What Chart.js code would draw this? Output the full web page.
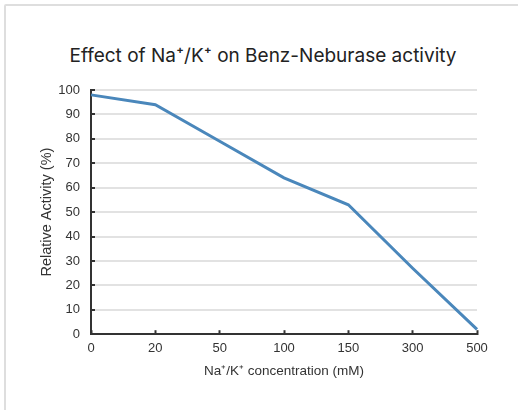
<!DOCTYPE html>
<html>
<head>
<meta charset="utf-8">
<script src="https://cdn.jsdelivr.net/npm/chart.js@4"></script>
<style>
    html, body { margin: 0; padding: 0; background: #fff; }
    body { width: 518px; height: 410px; position: relative; overflow: hidden; }
    .frame {
        position: absolute; left: 4px; top: 4px; width: 540px; height: 440px;
        border: 2px solid #dedede; border-radius: 2px;
    }
    .chart-title {
        position: absolute; left: 63px; width: 400px; top: 44px;
        text-align: center; white-space: nowrap;
        font: 19px Inter, Roboto, sans-serif; color: #222;
    }
    .chart-box { position: absolute; left: 0; top: 0; width: 518px; height: 410px; }
</style>
</head>
<body>
<div class="frame"></div>
<div class="chart-title">Effect of Na⁺/K⁺ on Benz-Neburase activity</div>
<div class="chart-box"><canvas id="activityChart"></canvas></div>
<script>
// Na+/K+ concentrations (mM) - plotted as evenly spaced categories
const concentrations = ['0', '20', '50', '100', '150', '300', '500'];
// Relative activity (%)
const relativeActivity = [98, 94, 79, 64, 53, 27, 2];

const xTitle = 'Na\u207A/K\u207A concentration (mM)';
const yTitle = 'Relative Activity (%)';

const sans = '"Liberation Sans", Arial, sans-serif';
const tickFont = { family: sans, size: 13 };

const ctx = document.getElementById('activityChart').getContext('2d');
new Chart(ctx, {
    type: 'line',
    data: {
        labels: concentrations,
        datasets: [{
            data: relativeActivity,
            borderColor: '#4a87bb',
            borderWidth: 3,
            pointRadius: 0,
            fill: false,
            tension: 0
        }]
    },
    options: {
        responsive: true,
        maintainAspectRatio: false,
        animation: false,
        layout: { padding: { left: 38, right: 41, top: 90, bottom: 24 } },
        plugins: {
            legend: { display: false },
            tooltip: { enabled: false },
            title: { display: false }
        },
        scales: {
            x: {
                offset: false,
                // no vertical gridlines, only short tick marks pointing into the plot
                grid: { color: 'transparent', drawTicks: true, tickLength: -4, tickColor: '#333', tickWidth: 2 },
                border: { display: true, color: '#333', width: 2 },
                ticks: { color: '#333', font: tickFont, padding: 10, maxRotation: 0 },
                title: {
                    display: true, text: xTitle, color: '#333',
                    font: { family: sans, size: 13.5 },
                    padding: { top: -3, bottom: 7 }
                }
            },
            y: {
                min: 0,
                max: 100,
                ticks: { stepSize: 10, color: '#333', font: tickFont, padding: 15 },
                grid: { color: '#e2e2e2', lineWidth: 2, drawTicks: true, tickLength: -4, tickColor: '#333', tickWidth: 2 },
                border: { display: true, color: '#333', width: 2 },
                title: {
                    display: true, text: yTitle, color: '#333',
                    font: { family: sans, size: 14.5 },
                    padding: { top: 0, bottom: 0 }
                },
                // pin the axis width so the plot starts where the original does
                afterFit: (scale) => { scale.width = 53; }
            }
        }
    }
});
</script>
</body>
</html>
